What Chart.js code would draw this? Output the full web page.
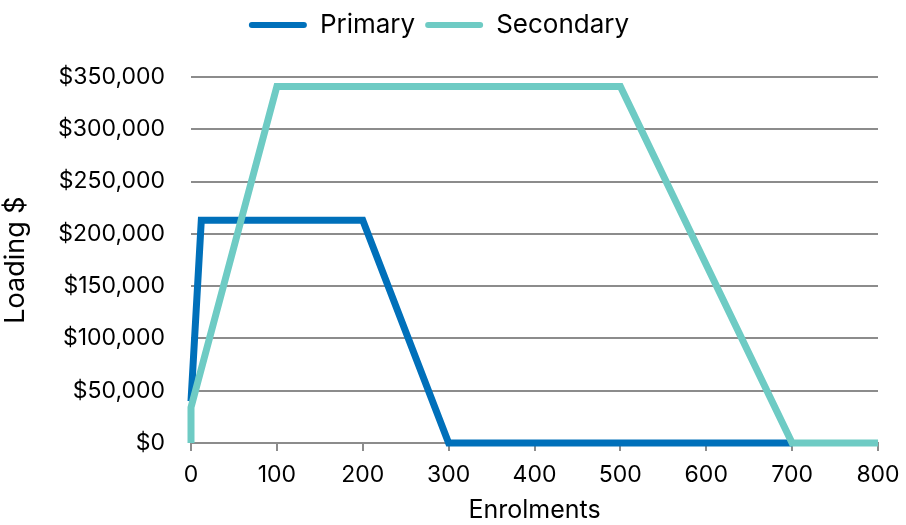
<!DOCTYPE html>
<html>
  <head>
    <meta charset="utf-8">
    <title>Loading by enrolments</title>
    <script src="https://cdn.jsdelivr.net/npm/chart.js"></script>
    <style>
      body { margin: 0; background: #fff; }
      #wrap { width: 906px; height: 525px; }
    </style>
  </head>
  <body>
    <div id="wrap"><canvas id="loadingChart" width="906" height="525"></canvas></div>
    <script>
      // values
      const primaryEnrolments = [0, 12, 200, 300, 700];
      const primaryLoading = [40000, 213000, 213000, 0, 0];
      const secondaryEnrolments = [0, 0, 100, 500, 700, 800];
      const secondaryLoading = [0, 34000, 341000, 341000, 0, 0];

      const xTicks = [0, 100, 200, 300, 400, 500, 600, 700, 800];
      const yTicks = [0, 50000, 100000, 150000, 200000, 250000, 300000, 350000];

      const toPoints = (xs, ys) => xs.map((x, i) => ({ x: x, y: ys[i] }));

      const fontName = "Inter, 'Open Sans', sans-serif";
      const gridGrey = '#8c8c8c';

      // push the plot down below the legend
      const legendGap = {
        id: 'legendGap',
        beforeInit(chart) {
          const fit = chart.legend.fit;
          chart.legend.fit = function () {
            fit.bind(chart.legend)();
            this.height += 29;
          };
        }
      };

      const ctx = document.getElementById('loadingChart');
      new Chart(ctx, {
        type: 'line',
        data: {
          datasets: [{
            label: 'Primary',
            data: toPoints(primaryEnrolments, primaryLoading),
            borderColor: '#0070ba',
            backgroundColor: '#0070ba',
            borderWidth: 7,
            pointRadius: 0,
            tension: 0,
            clip: false,
            order: 1
          }, {
            label: 'Secondary',
            data: toPoints(secondaryEnrolments, secondaryLoading),
            borderColor: '#6ecbc4',
            backgroundColor: '#6ecbc4',
            borderWidth: 7,
            pointRadius: 0,
            tension: 0,
            clip: false,
            order: 0
          }]
        },
        plugins: [legendGap],
        options: {
          responsive: false,
          animation: false,
          layout: { padding: { left: 0, right: 28, top: 2, bottom: 0 } },
          plugins: {
            tooltip: { enabled: false },
            legend: {
              position: 'top',
              labels: {
                color: '#000',
                font: { family: fontName, size: 26 },
                boxWidth: 58,
                boxHeight: 6,
                useBorderRadius: true,
                borderRadius: 3,
                padding: 10,
                generateLabels: (chart) => chart.data.datasets.map((ds, i) => ({
                  text: ds.label,
                  fillStyle: ds.borderColor,
                  strokeStyle: ds.borderColor,
                  lineWidth: 0,
                  fontColor: '#000',
                  datasetIndex: i,
                  borderRadius: 3
                }))
              }
            }
          },
          scales: {
            x: {
              type: 'linear',
              min: 0,
              max: 800,
              afterBuildTicks: (scale) => { scale.ticks = xTicks.map(v => ({ value: v })); },
              afterFit: (scale) => {
                scale.height = 82;
                scale.paddingRight = 0;
              },
              grid: {
                display: true,
                drawOnChartArea: false,
                drawTicks: true,
                tickLength: 8,
                color: gridGrey,
                lineWidth: 2
              },
              border: { display: true, color: gridGrey, width: 2 },
              ticks: {
                color: '#000',
                font: { family: fontName, size: 23 },
                padding: 10,
                maxRotation: 0
              },
              title: {
                display: true,
                text: 'Enrolments',
                color: '#000',
                font: { family: fontName, size: 25 },
                padding: { top: 3, bottom: 0 }
              }
            },
            y: {
              min: 0,
              max: 350000,
              afterBuildTicks: (scale) => { scale.ticks = yTicks.map(v => ({ value: v })); },
              afterFit: (scale) => { scale.width = 191; },
              grid: {
                color: gridGrey,
                lineWidth: 2,
                drawTicks: false
              },
              border: { display: false },
              ticks: {
                color: '#000',
                font: { family: fontName, size: 23 },
                padding: 26,
                callback: (v) => '$' + v.toLocaleString('en-US')
              },
              title: {
                display: true,
                text: 'Loading $',
                color: '#000',
                font: { family: fontName, size: 27 },
                padding: { top: 0, bottom: 2 }
              }
            }
          }
        }
      });
    </script>
  </body>
</html>
